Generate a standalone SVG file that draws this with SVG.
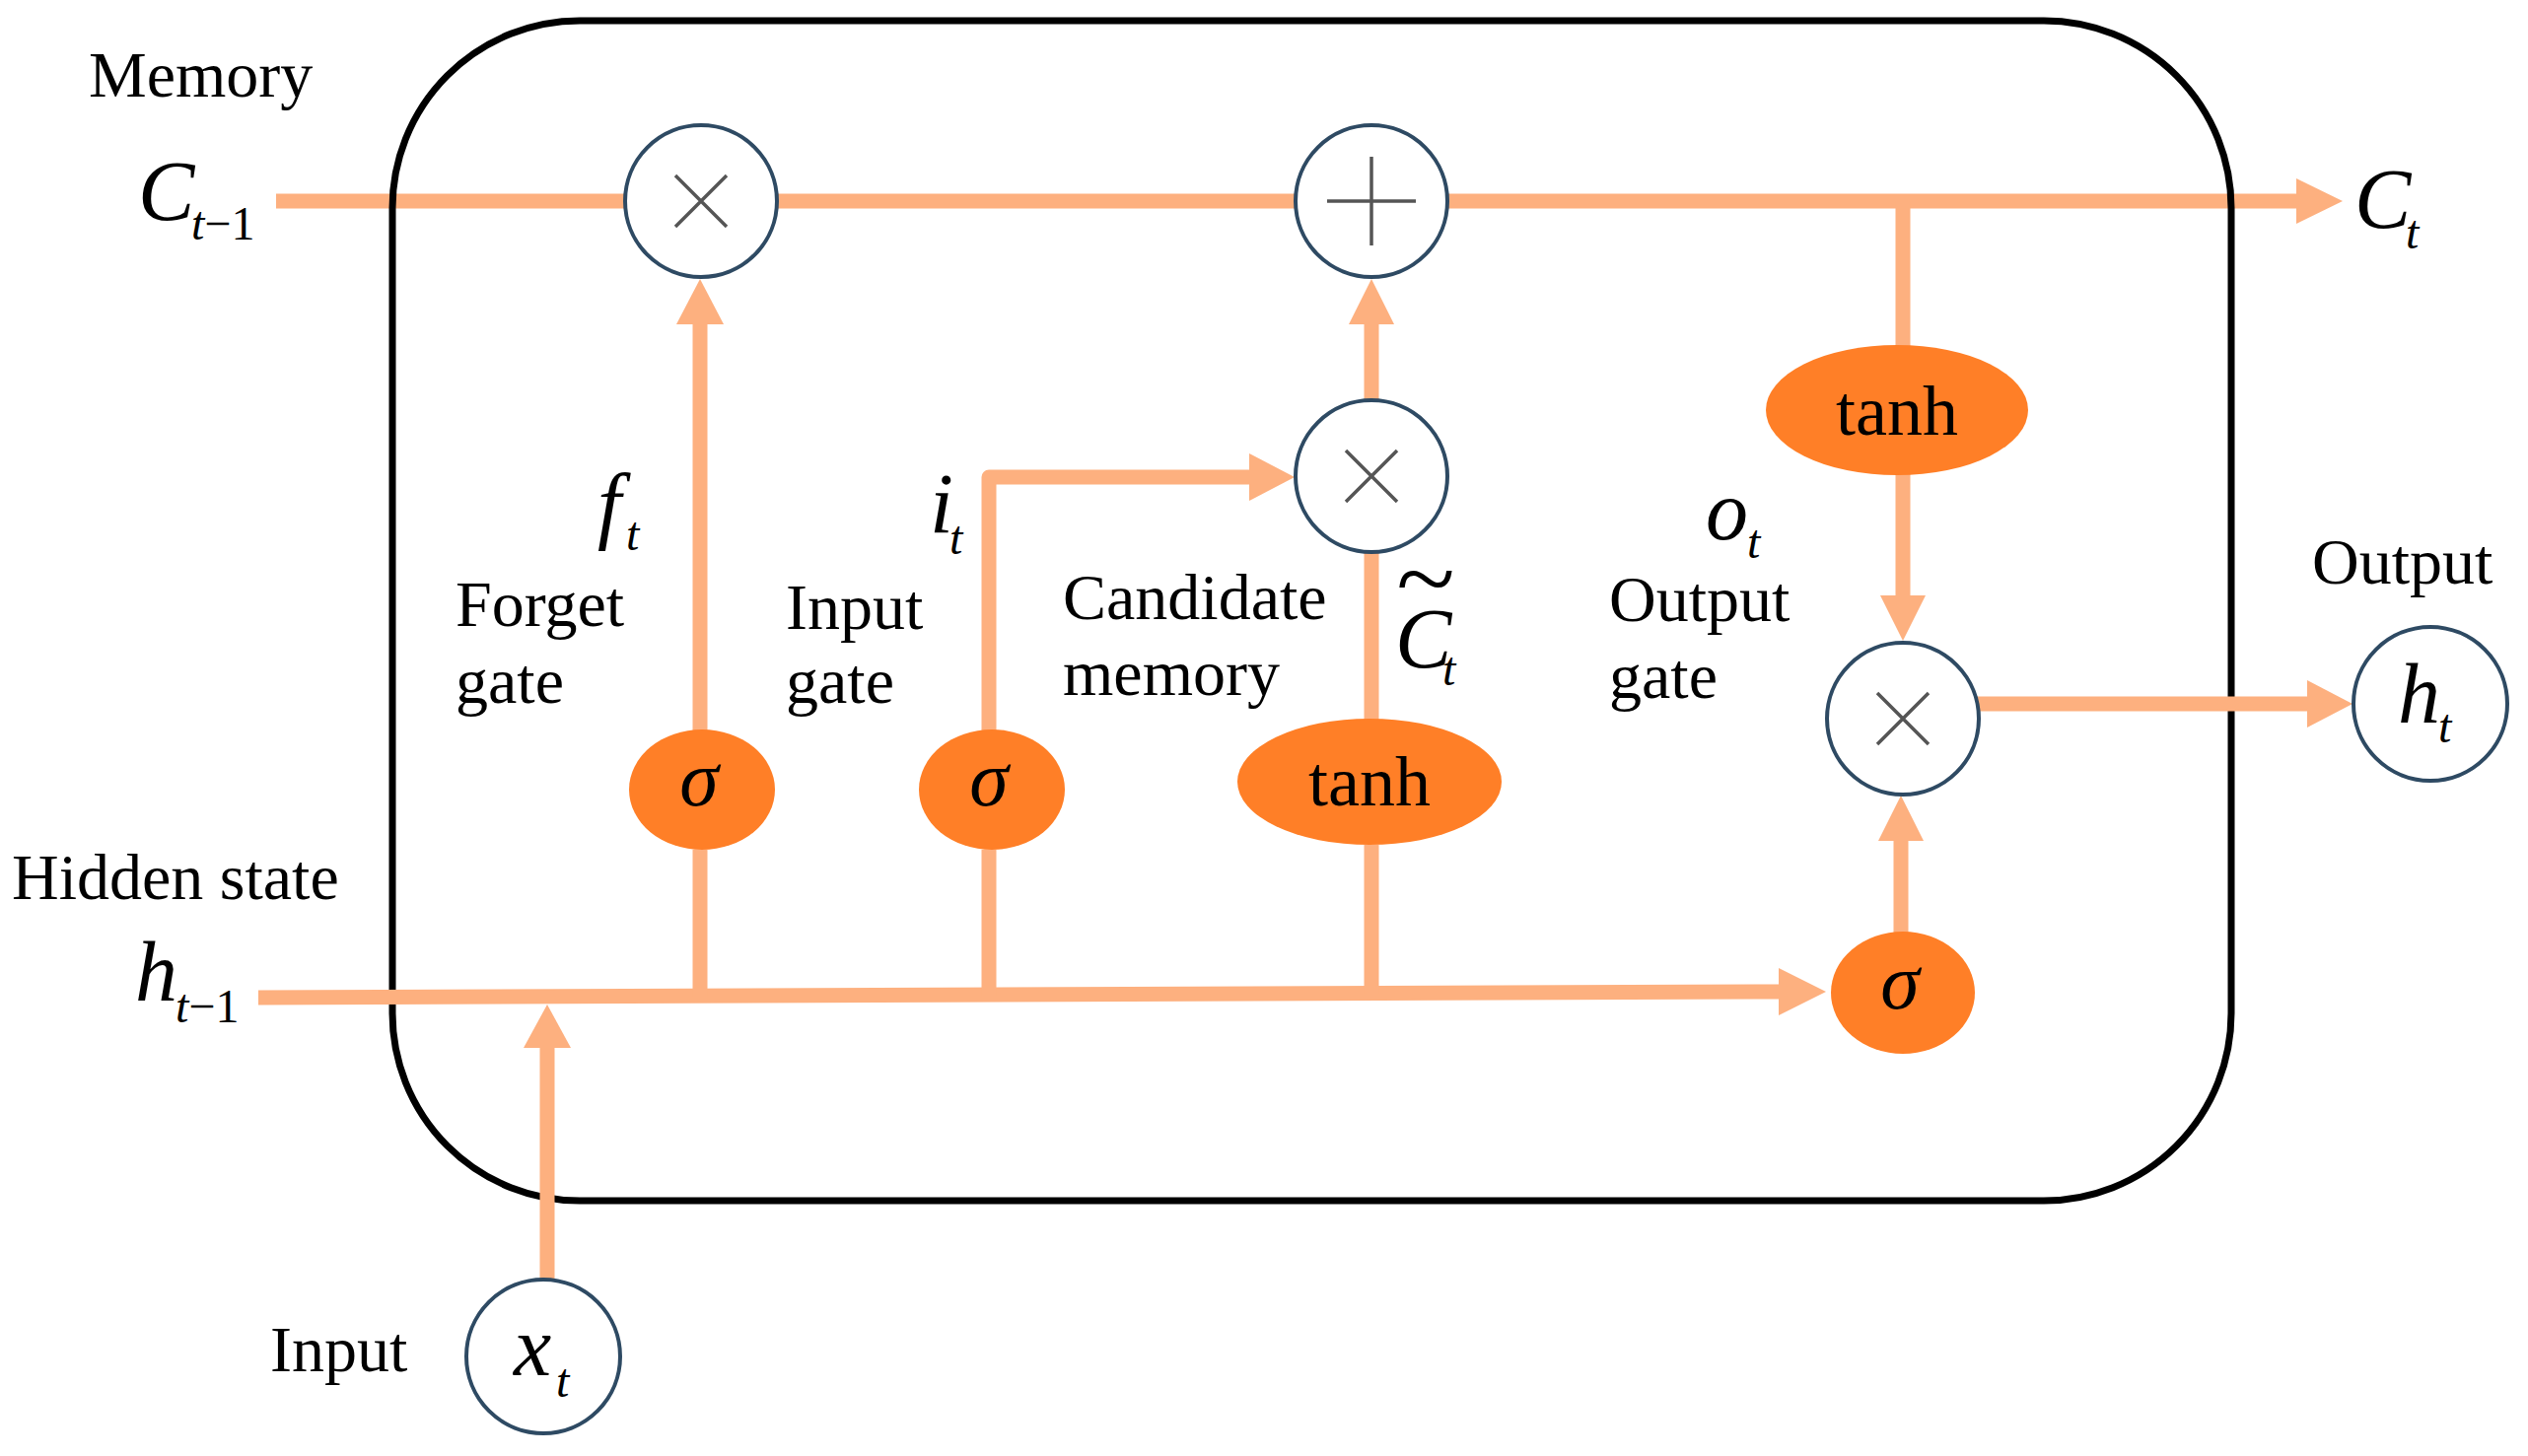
<svg xmlns="http://www.w3.org/2000/svg" width="2564" height="1477" viewBox="0 0 2564 1477">
<defs>
<style>
.t{font-family:"Liberation Serif","Times New Roman",serif;font-size:66px;fill:#000}
.m{font-family:"Liberation Serif","Times New Roman",serif;font-style:italic;font-size:86px;fill:#000}
.s{font-family:"Liberation Serif","Times New Roman",serif;font-style:italic;font-size:48px;fill:#000}
.sr{font-family:"Liberation Serif","Times New Roman",serif;font-style:normal;font-size:48px;fill:#000}
.g{font-family:"Liberation Serif","Times New Roman",serif;font-style:italic;font-size:80px;fill:#000;text-anchor:middle}
.th{font-family:"Liberation Serif","Times New Roman",serif;font-size:72px;fill:#000;text-anchor:middle}
.ln{fill:none;stroke:#FDB07F;stroke-width:15}
.ah{fill:#FDB07F;stroke:none}
.op{fill:#fff;stroke:#2E4A63;stroke-width:4}
.sym{stroke:#555;stroke-width:3.5;fill:none}
.act{fill:#FF7F27;stroke:none}
.box{fill:none;stroke:#000;stroke-width:7}
</style>
</defs>
<rect width="2564" height="1477" fill="#fff"/>
<g id="connectors-memory">
<line class="ln" x1="280" y1="204" x2="2332" y2="204"/>
<polygon class="ah" points="2329,181 2376,204 2329,227"/>
</g>
<rect id="cell" class="box" x="398" y="21" width="1865" height="1197" rx="190" ry="190"/>
<g id="connectors">
<line class="ln" x1="1930" y1="204" x2="1930" y2="352"/>
<line class="ln" x1="1930" y1="480" x2="1930" y2="606"/>
<polygon class="ah" points="1907,604 1953,604 1930,650"/>
<line class="ln" x1="2004" y1="714" x2="2342" y2="714"/>
<polygon class="ah" points="2340,690 2386,714 2340,738"/>
<line class="ln" x1="1928" y1="946" x2="1928" y2="851"/>
<polygon class="ah" points="1905,853 1951,853 1928,807"/>
<line class="ln" x1="262" y1="1012" x2="1806" y2="1006"/>
<polygon class="ah" points="1804,982 1852,1006 1804,1030"/>
<line class="ln" x1="710" y1="1011" x2="710" y2="862"/>
<line class="ln" x1="710" y1="741" x2="710" y2="327"/>
<polygon class="ah" points="686,329 734,329 710,283"/>
<line class="ln" x1="1003" y1="1010" x2="1003" y2="862"/>
<polyline class="ln" points="1003,741 1003,484 1269,484" stroke-linejoin="round"/>
<polygon class="ah" points="1267,460 1313,484 1267,508"/>
<line class="ln" x1="1391" y1="1008" x2="1391" y2="857"/>
<line class="ln" x1="1391" y1="730" x2="1391" y2="560"/>
<line class="ln" x1="1391" y1="406" x2="1391" y2="327"/>
<polygon class="ah" points="1368,329 1414,329 1391,283"/>
<line class="ln" x1="555" y1="1298" x2="555" y2="1061"/>
<polygon class="ah" points="531,1063 579,1063 555,1019"/>
</g>
<g id="mult-forget">
<circle class="op" cx="711" cy="204" r="77"/>
<path class="sym" d="M685,178 L737,230 M737,178 L685,230"/>
</g>
<g id="add-memory">
<circle class="op" cx="1391" cy="204" r="77"/>
<path class="sym" d="M1346,204 L1436,204 M1391,159 L1391,249"/>
</g>
<g id="mult-input">
<circle class="op" cx="1391" cy="483" r="77"/>
<path class="sym" d="M1365,457 L1417,509 M1417,457 L1365,509"/>
</g>
<g id="tanh-output">
<ellipse class="act" cx="1924" cy="416" rx="133" ry="66"/>
<text class="th" x="1924" y="441">tanh</text>
</g>
<g id="mult-output">
<circle class="op" cx="1930" cy="729" r="77"/>
<path class="sym" d="M1904,703 L1956,755 M1956,703 L1904,755"/>
</g>
<g id="sigma-forget">
<ellipse class="act" cx="712" cy="801" rx="74" ry="61"/>
<text class="g" x="709" y="817">σ</text>
</g>
<g id="sigma-input">
<ellipse class="act" cx="1006" cy="801" rx="74" ry="61"/>
<text class="g" x="1003" y="817">σ</text>
</g>
<g id="tanh-candidate">
<ellipse class="act" cx="1389" cy="793" rx="134" ry="64"/>
<text class="th" x="1389" y="817">tanh</text>
</g>
<g id="sigma-output">
<ellipse class="act" cx="1930" cy="1007" rx="73" ry="62"/>
<text class="g" x="1927" y="1023">σ</text>
</g>
<g id="output-h">
<circle class="op" cx="2465" cy="714" r="78"/>
<text class="m" x="2432" y="733" font-size="80">h</text>
<text class="s" x="2473" y="753">t</text>
</g>
<g id="input-x">
<circle class="op" cx="551" cy="1376" r="78"/>
<text class="m" x="521" y="1395" font-size="80">x</text>
<text class="s" x="564" y="1417">t</text>
</g>
<g id="labels">
<text class="t" x="90" y="98">Memory</text>
<text class="m" x="140" y="223">C</text>
<text class="s" x="194" y="243">t<tspan class="sr">−1</tspan></text>
<text class="m" x="2388" y="231">C</text>
<text class="s" x="2440" y="252">t</text>
<text class="m" x="606" y="540">f</text>
<text class="s" x="635" y="558">t</text>
<text class="m" x="943" y="540">i</text>
<text class="s" x="963" y="562">t</text>
<text class="m" x="1730" y="547">o</text>
<text class="s" x="1772" y="566">t</text>
<text class="m" x="1415" y="677">C</text>
<text class="s" x="1463" y="695">t</text>
<text x="0" y="0" font-family="Liberation Serif, serif" font-size="100" text-anchor="middle" transform="translate(1446,620) scale(1.1,1)">~</text>
<text class="m" x="137" y="1015" font-size="80">h</text>
<text class="s" x="178" y="1037">t<tspan class="sr">−1</tspan></text>
<text class="t" x="462" y="635">Forget</text>
<text class="t" x="462" y="713">gate</text>
<text class="t" x="797" y="638">Input</text>
<text class="t" x="797" y="713">gate</text>
<text class="t" x="1078" y="628">Candidate</text>
<text class="t" x="1078" y="705">memory</text>
<text class="t" x="1632" y="630">Output</text>
<text class="t" x="1632" y="708">gate</text>
<text class="t" x="2345" y="592">Output</text>
<text class="t" x="12" y="912">Hidden state</text>
<text class="t" x="274" y="1391">Input</text>
</g>
</svg>
